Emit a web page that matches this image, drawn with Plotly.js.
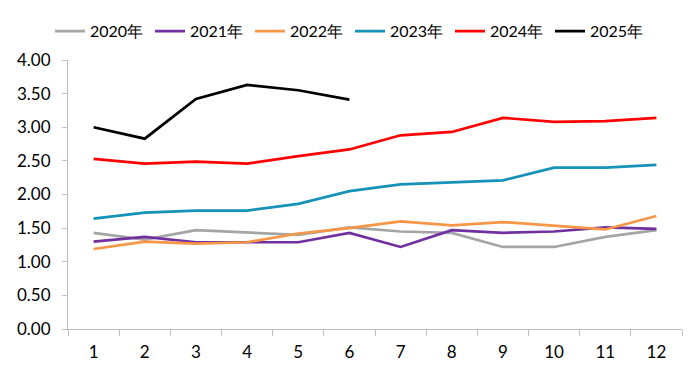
<!DOCTYPE html>
<html>
<head>
<meta charset="utf-8">
<script src="https://cdn.plot.ly/plotly-3.0.1.min.js"></script>
<style>html,body{margin:0;padding:0;background:#fff;}#chart{width:700px;height:371px;}</style>
</head>
<body>
<div id="chart"></div>
<script>
const months = ['1','2','3','4','5','6','7','8','9','10','11','12'];
const seriesNames = ['2020年','2021年','2022年','2023年','2024年','2025年'];
const y2020 = [1.43,1.33,1.47,1.43,1.40,1.51,1.45,1.43,1.22,1.22,1.37,1.47];
const y2021 = [1.30,1.37,1.29,1.29,1.29,1.43,1.22,1.47,1.43,1.45,1.51,1.49];
const y2022 = [1.19,1.30,1.27,1.29,1.42,1.50,1.60,1.54,1.59,1.54,1.48,1.68];
const y2023 = [1.64,1.73,1.76,1.76,1.86,2.05,2.15,2.18,2.21,2.40,2.40,2.44];
const y2024 = [2.53,2.46,2.49,2.46,2.57,2.67,2.88,2.93,3.14,3.08,3.09,3.14];
const y2025 = [3.00,2.83,3.42,3.63,3.55,3.41];
const colors = ['#A5A5A5','#7030A0','#F79646','#1592B8','#FF0000','#000000'];
const allY = [y2020,y2021,y2022,y2023,y2024,y2025];
const traces = allY.map((ys,i)=>({
  type:'scatter', mode:'lines', name:seriesNames[i],
  x: months.slice(0, ys.length), y: ys,
  line:{color:colors[i], width:2.7}
}));
const font = "Lato, 'Open Sans', sans-serif";
Plotly.newPlot('chart', traces, {
  width:700, height:371,
  margin:{l:68,r:18,t:60,b:42},
  paper_bgcolor:'#fff', plot_bgcolor:'#fff',
  font:{family:font, size:17, color:'#000'},
  showlegend:true,
  legend:{orientation:'h', x:0.5, xanchor:'center', xref:'container', y:0.916, yanchor:'middle', yref:'container',
    font:{family:font,size:16,color:'#000'}, itemwidth:30, entrywidth:55, tracegroupgap:0, itemclick:false},
  xaxis:{type:'category', range:[-0.5,11.5], showgrid:false, zeroline:false,
    showline:true, linecolor:'#BFBFBF', linewidth:1, ticks:'outside', tickson:'boundaries',
    ticklen:6, tickcolor:'#BFBFBF', tickfont:{family:font,size:17}, ticklabelstandoff:8, fixedrange:true},
  yaxis:{range:[0,4], dtick:0.5, tickformat:'.2f', showgrid:false, zeroline:false,
    showline:true, linecolor:'#BFBFBF', linewidth:1, ticks:'outside', ticklen:5,
    tickcolor:'#BFBFBF', tickfont:{family:font,size:17}, ticklabelstandoff:8, fixedrange:true}
}, {displayModeBar:false, staticPlot:true});
</script>
</body>
</html>
